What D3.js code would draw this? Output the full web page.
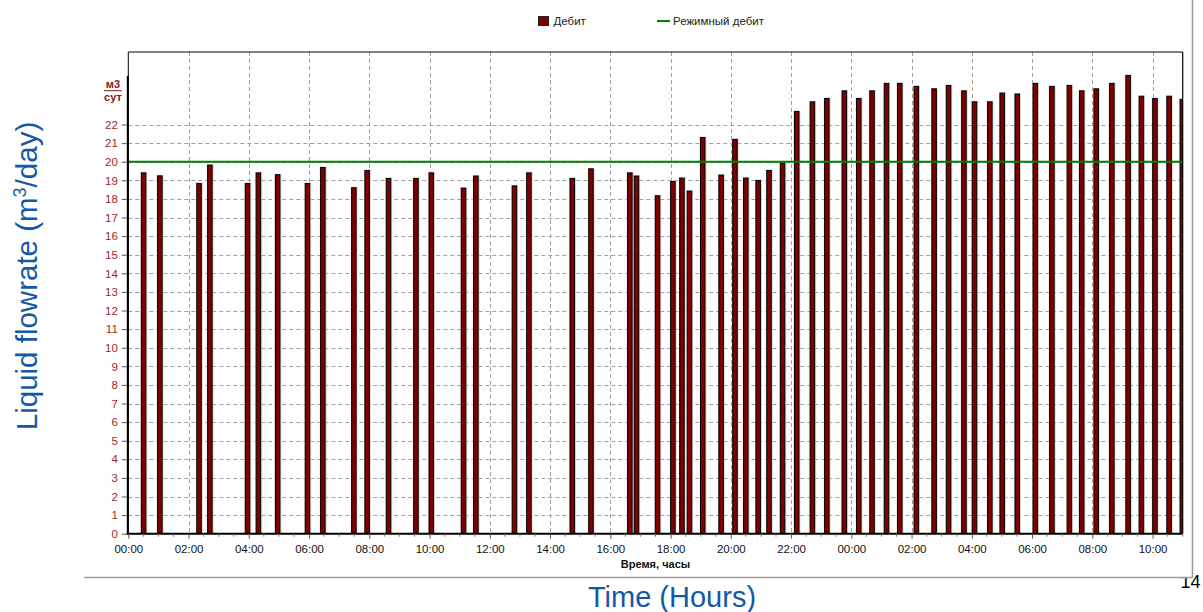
<!DOCTYPE html>
<html><head><meta charset="utf-8">
<script src="https://cdn.jsdelivr.net/npm/d3@7"></script>
<style>
html,body{margin:0;padding:0;background:#fff;}
svg{display:block;font-family:Arial,"Liberation Sans",sans-serif;}
</style></head>
<body>
<svg id="c" width="1203" height="612"></svg>
<script>
// Hours elapsed since 00:00 of the first day (values > 24 belong to the next day)
const hours = [0.50,1.04,2.34,2.70,3.95,4.31,4.95,5.94,6.45,7.48,
  7.92,8.63,9.54,10.05,11.12,11.53,12.81,13.29,14.73,15.35,
  16.64,16.86,17.56,18.07,18.37,18.62,19.06,19.67,20.13,20.49,
  20.90,21.26,21.71,22.18,22.70,23.18,23.76,24.24,24.68,25.16,
  25.60,26.15,26.74,27.22,27.73,28.08,28.59,29.00,29.50,30.10,
  30.65,31.23,31.64,32.12,32.64,33.18,33.62,34.07,34.54,34.98];
// Дебит, м3/сут
const debit = [19.40,19.24,18.83,19.82,18.83,19.40,19.30,18.83,19.69,18.60,
  19.53,19.10,19.10,19.40,18.58,19.23,18.70,19.40,19.10,19.62,
  19.40,19.23,18.17,18.94,19.12,18.42,21.30,19.28,21.20,19.12,
  18.99,19.53,19.92,22.70,23.22,23.40,23.81,23.40,23.81,24.21,
  24.21,24.05,23.92,24.10,23.81,23.22,23.22,23.69,23.64,24.21,
  24.05,24.10,23.81,23.92,24.21,24.64,23.52,23.40,23.52,23.35];
const regimeDebit = 20;
const yTicks = [0,1,2,3,4,5,6,7,8,9,10,11,12,13,14,15,16,17,18,19,20,21,22];
const xTicks = [0,2,4,6,8,10,12,14,16,18,20,22,24,26,28,30,32,34];
const xTickLabels = ["00:00","02:00","04:00","06:00","08:00","10:00","12:00","14:00","16:00","18:00","20:00","22:00","00:00","02:00","04:00","06:00","08:00","10:00"];
const legendLabels = ["Дебит","Режимный дебит"];
const xAxisTitle = "Время, часы";
const unitTop = "м3", unitBottom = "сут";

const svg = d3.select("#c");
const L = 128.3, R = 1182.7, T = 52, B = 533.7;
const x = d3.scaleLinear().domain([0,35]).range([L,R]);
const y = d3.scaleLinear().domain([0,25.9]).range([B,T]);

// page text (partially covered by panel)
svg.append("text").attr("x",1180.5).attr("y",588).attr("font-size",18).attr("fill","#000").text("14");
// panel
svg.append("rect").attr("x",0).attr("y",0).attr("width",1192).attr("height",577).attr("fill","#fff");
svg.append("line").attr("x1",84).attr("x2",1192.5).attr("y1",577.5).attr("y2",577.5).attr("stroke","#9a9a9a").attr("stroke-width",1.5);
svg.append("line").attr("x1",1192.5).attr("x2",1192.5).attr("y1",0).attr("y2",577.5).attr("stroke","#9a9a9a").attr("stroke-width",1.5);

svg.append("defs").append("clipPath").attr("id","pc").append("rect")
  .attr("x",L).attr("y",T).attr("width",R-L).attr("height",B-T);

// gridlines
const g = svg.append("g");
g.selectAll("line.hg").data(yTicks.filter(d=>d>0)).join("line")
  .attr("x1",L).attr("x2",R).attr("y1",d=>Math.round(y(d))+0.5).attr("y2",d=>Math.round(y(d))+0.5)
  .attr("stroke","#a0a0a0").attr("stroke-dasharray","4,3");
g.selectAll("line.vg").data(xTicks.filter(d=>d>0)).join("line")
  .attr("x1",d=>Math.round(x(d))+0.5).attr("x2",d=>Math.round(x(d))+0.5).attr("y1",T).attr("y2",B)
  .attr("stroke","#a0a0a0").attr("stroke-dasharray","4,3");

// bars
const bars = svg.append("g").attr("clip-path","url(#pc)");
const data = hours.map((h,i)=>({h, v: debit[i]}));
bars.selectAll("rect.sh").data(data).join("rect")
  .attr("x",d=>x(d.h)-3).attr("y",d=>y(d.v)-1).attr("width",7).attr("height",d=>B-y(d.v)+1)
  .attr("fill","#c8c8c8").attr("opacity",0.7);
bars.selectAll("rect.b").data(data).join("rect")
  .attr("x",d=>x(d.h)-2).attr("y",d=>y(d.v)).attr("width",4.5).attr("height",d=>B-y(d.v))
  .attr("fill","#800000").attr("stroke","#000").attr("stroke-width",1);

// regime line
svg.append("line").attr("x1",L).attr("x2",R).attr("y1",y(regimeDebit)).attr("y2",y(regimeDebit))
  .attr("stroke","#008000").attr("stroke-width",2.2);

// frame
svg.append("line").attr("x1",L).attr("x2",R).attr("y1",T).attr("y2",T).attr("stroke","#000").attr("stroke-width",1.2);
svg.append("line").attr("x1",R).attr("x2",R).attr("y1",T).attr("y2",B).attr("stroke","#000").attr("stroke-width",1.2);
svg.append("line").attr("x1",L).attr("x2",L).attr("y1",T).attr("y2",B).attr("stroke","#000").attr("stroke-width",1);
svg.append("line").attr("x1",L-0.5).attr("x2",L-0.5).attr("y1",76).attr("y2",B+1).attr("stroke","#000").attr("stroke-width",2);

// y axis
const ya = d3.axisLeft(y).tickValues(yTicks).tickSize(5).tickPadding(4).tickFormat(d3.format("d"));
const yg = svg.append("g").attr("transform",`translate(${L-1.5},0)`).call(ya);
yg.select(".domain").remove();
yg.selectAll(".tick line").attr("stroke","#555");
yg.selectAll(".tick text").attr("fill","#a3262a").attr("font-size",11.5).attr("font-family","Arial,'Liberation Sans',sans-serif");

// x axis
const xa = d3.axisBottom(x).tickValues(xTicks).tickSize(5).tickPadding(6).tickFormat((d,i)=>xTickLabels[i]);
const xg = svg.append("g").attr("transform",`translate(0,${B})`).call(xa);
xg.select(".domain").attr("stroke","#000").attr("stroke-width",2).attr("d",`M${L-1.5},0H${R}`);
xg.selectAll(".tick line").attr("stroke","#555");
xg.selectAll(".tick text").attr("fill","#111").attr("font-size",11.5).attr("font-family","Arial,'Liberation Sans',sans-serif");
const minor = d3.range(0,35.01,0.5).filter(d=>d%2!==0);
xg.selectAll("line.mn").data(minor).join("line").attr("class","mn")
  .attr("x1",d=>x(d)).attr("x2",d=>x(d)).attr("y1",0).attr("y2",3).attr("stroke","#777");

// x axis label
svg.append("text").attr("x",(L+R)/2).attr("y",568).attr("text-anchor","middle")
  .attr("font-size",11).attr("font-weight","bold").attr("fill","#111").text(xAxisTitle);

// unit label
svg.append("text").attr("x",113).attr("y",87.5).attr("text-anchor","middle").attr("font-size",11)
  .attr("font-weight","bold").attr("fill","#8b1414").text(unitTop);
svg.append("line").attr("x1",104).attr("x2",122).attr("y1",90.7).attr("y2",90.7).attr("stroke","#8b1414").attr("stroke-width",1);
svg.append("text").attr("x",113).attr("y",100.5).attr("text-anchor","middle").attr("font-size",11)
  .attr("font-weight","bold").attr("fill","#8b1414").text(unitBottom);

// legend
const lg = svg.append("g");
lg.append("rect").attr("x",538.5).attr("y",16.5).attr("width",10).attr("height",9).attr("fill","#800000").attr("stroke","#222");
lg.append("text").attr("x",553.5).attr("y",25).attr("font-size",11.5).attr("fill","#222").text(legendLabels[0]);
lg.append("line").attr("x1",657).attr("x2",670).attr("y1",21).attr("y2",21).attr("stroke","#008000").attr("stroke-width",2);
lg.append("text").attr("x",673).attr("y",25).attr("font-size",11.5).attr("fill","#222").text(legendLabels[1]);

// big titles
const blue = "#1459a3";
const yt = svg.append("text").attr("transform","translate(37,276) rotate(-90)").attr("text-anchor","middle")
  .attr("font-size",29.5).attr("fill",blue);
yt.append("tspan").text("Liquid flowrate (m");
yt.append("tspan").attr("font-size",18).attr("dy",-11).text("3");
yt.append("tspan").attr("dy",11).text("/day)");
svg.append("text").attr("x",672).attr("y",606.5).attr("text-anchor","middle").attr("font-size",29)
  .attr("fill",blue).text("Time (Hours)");
</script>
</body></html>
